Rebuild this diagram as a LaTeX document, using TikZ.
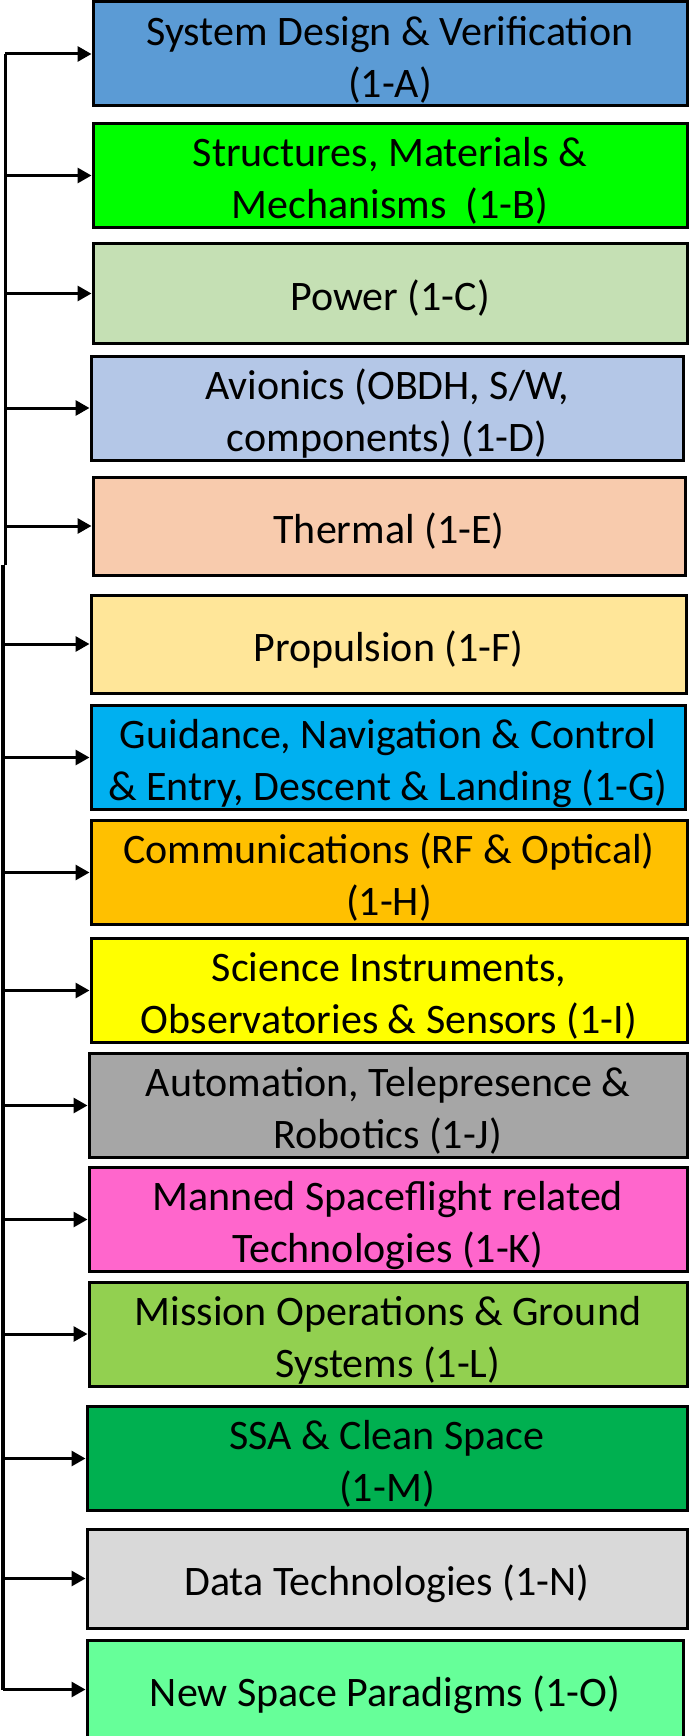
\documentclass[tikz,border=0pt]{standalone}
\usepackage{fontspec}
\setmainfont{Carlito}
\usepackage{xcolor}
\usetikzlibrary{arrows.meta}

\definecolor{cA}{HTML}{5B9BD5}
\definecolor{cB}{HTML}{00FF00}
\definecolor{cC}{HTML}{C5E0B4}
\definecolor{cD}{HTML}{B4C7E7}
\definecolor{cE}{HTML}{F8CBAD}
\definecolor{cF}{HTML}{FFE699}
\definecolor{cG}{HTML}{00B0F0}
\definecolor{cH}{HTML}{FFC000}
\definecolor{cI}{HTML}{FFFF00}
\definecolor{cJ}{HTML}{A6A6A6}
\definecolor{cK}{HTML}{FF66CC}
\definecolor{cL}{HTML}{92D050}
\definecolor{cM}{HTML}{00B050}
\definecolor{cN}{HTML}{D9D9D9}
\definecolor{cO}{HTML}{66FF99}

% box text, set a little below the middle
\newcommand{\boxlabel}[1]{\raisebox{-7pt}[\height][\depth]{\begin{tabular}{@{}c@{}}#1\end{tabular}}}

\tikzset{
  techbox/.style={draw=black, line width=3pt, inner sep=0pt,
    font=\fontsize{42}{52}\selectfont},
  feed/.style={line width=3pt, -{Triangle[length=14pt,width=15pt]}},
  trunk/.style={line width=3pt},
}

\begin{document}
\begin{tikzpicture}[x=1pt,y=-1pt]
            \useasboundingbox (0,0) rectangle (689,1736);
            \clip (0,0) rectangle (689,1736);
            % Technology domains
            \node[techbox, fill=cA, minimum width=594, minimum height=98] (sdv) at (390,54) {\boxlabel{System Design \& Verification\\(1-A)}};
            \node[techbox, fill=cB, minimum width=594, minimum height=99] (smm) at (390,175.5) {\boxlabel{Structures, Materials \&\\Mechanisms~ (1-B)}};
            \node[techbox, fill=cC, minimum width=594, minimum height=99] (pow) at (390,293.5) {\boxlabel{Power (1-C)}};
            \node[techbox, fill=cD, minimum width=592, minimum height=98] (avi) at (387,408) {\boxlabel{Avionics (OBDH, S/W,\\components) (1-D)}};
            \node[techbox, fill=cE, minimum width=592, minimum height=98] (thm) at (389,526) {\boxlabel{Thermal (1-E)}};
            \node[techbox, fill=cF, minimum width=595, minimum height=98] (prp) at (388.5,644) {\boxlabel{Propulsion (1-F)}};
            \node[techbox, fill=cG, minimum width=594, minimum height=93] (gnc) at (388,757.5) {\boxlabel{Guidance, Navigation \& Control\\\& Entry, Descent \& Landing (1-G)}};
            \node[techbox, fill=cH, minimum width=596, minimum height=99] (com) at (389,872.5) {\boxlabel{Communications (RF \& Optical)\\(1-H)}};
            \node[techbox, fill=cI, minimum width=596, minimum height=97] (sci) at (389,990.5) {\boxlabel{Science Instruments,\\Observatories \& Sensors (1-I)}};
            \node[techbox, fill=cJ, minimum width=598, minimum height=99] (atr) at (388,1105.5) {\boxlabel{Automation, Telepresence \&\\Robotics (1-J)}};
            \node[techbox, fill=cK, minimum width=598, minimum height=99] (msf) at (388,1219.5) {\boxlabel{Manned Spaceflight related\\Technologies (1-K)}};
            \node[techbox, fill=cL, minimum width=598, minimum height=100] (mog) at (388,1334) {\boxlabel{Mission Operations \& Ground\\Systems (1-L)}};
            \node[techbox, fill=cM, minimum width=600, minimum height=99] (ssa) at (387,1458.5) {\boxlabel{SSA \& Clean Space\\(1-M)}};
            \node[techbox, fill=cN, minimum width=600, minimum height=99] (dat) at (387,1578.5) {\boxlabel{Data Technologies (1-N)}};
            \node[techbox, fill=cO, minimum width=596, minimum height=99] (nsp) at (385,1689.5) {\boxlabel{New Space Paradigms (1-O)}};

            % Trunk on the left, in two pieces
            \coordinate (busup) at (5,565);
            \coordinate (buslo) at (3,565);
            \draw[trunk] (sdv.west -| busup) -- (busup);
            \draw[trunk, line width=4pt] (buslo) -- (nsp.west -| buslo);

            % Feeds into each box
            \draw[feed] (sdv.west -| busup) -- (sdv.west);
            \draw[feed] (smm.west -| busup) -- (smm.west);
            \draw[feed] (pow.west -| busup) -- (pow.west);
            \draw[feed] (avi.west -| busup) -- (avi.west);
            \draw[feed] (thm.west -| busup) -- (thm.west);
            \draw[feed] (prp.west -| buslo) -- (prp.west);
            \draw[feed] (gnc.west -| buslo) -- (gnc.west);
            \draw[feed] (com.west -| buslo) -- (com.west);
            \draw[feed] (sci.west -| buslo) -- (sci.west);
            \draw[feed] (atr.west -| buslo) -- (atr.west);
            \draw[feed] (msf.west -| buslo) -- (msf.west);
            \draw[feed] (mog.west -| buslo) -- (mog.west);
            \draw[feed] (ssa.west -| buslo) -- (ssa.west);
            \draw[feed] (dat.west -| buslo) -- (dat.west);
            \draw[feed] (nsp.west -| buslo) -- (nsp.west);
\end{tikzpicture}
\end{document}
